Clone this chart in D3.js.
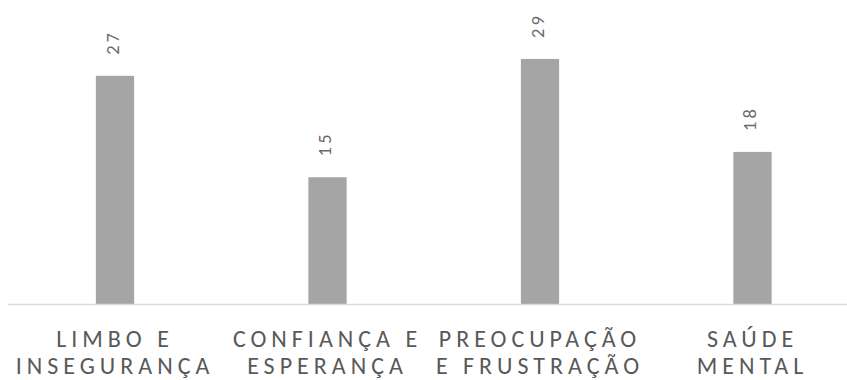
<!DOCTYPE html>
<html>
<head>
<meta charset="utf-8">
<script src="https://cdn.jsdelivr.net/npm/d3@7/dist/d3.min.js"></script>
<style>
  html, body { margin: 0; padding: 0; background: #ffffff; }
  svg { display: block; }
</style>
</head>
<body>
<svg id="chart" width="847" height="380"></svg>
<script>
// Category labels, split into the two lines shown under each bar
const categories = ["Limbo e Insegurança", "Confiança e Esperança", "Preocupação e Frustração", "Saúde Mental"];
const labelLines = [
  ["LIMBO E", "INSEGURANÇA"],
  ["CONFIANÇA E", "ESPERANÇA"],
  ["PREOCUPAÇÃO", "E FRUSTRAÇÃO"],
  ["SAÚDE", "MENTAL"]
];
const values = [27, 15, 29, 18];

const svg = d3.select("#chart");
const fontFamily = "Carlito, Calibri, 'Open Sans', sans-serif";

const baseY = 304;
const x = d3.scaleBand()
  .domain(categories)
  .range([8.75, 858.75])
  .paddingInner(0.82)
  .paddingOuter(0.41);

const y = d3.scaleLinear()
  .domain([0, 30])
  .range([baseY, baseY - 30 * 8.45]);

// Bars
svg.append("g")
  .selectAll("rect")
  .data(values)
  .join("rect")
  .attr("x", (d, i) => x(categories[i]))
  .attr("y", d => y(d))
  .attr("width", x.bandwidth())
  .attr("height", d => y(0) - y(d))
  .attr("fill", "#a5a5a5");

// Baseline
svg.append("line")
  .attr("x1", 8)
  .attr("x2", 847)
  .attr("y1", baseY + 0.5)
  .attr("y2", baseY + 0.5)
  .attr("stroke", "#d9d9d9")
  .attr("stroke-width", 1.5);

// Value labels, rotated above each bar
svg.append("g")
  .selectAll("text")
  .data(values)
  .join("text")
  .attr("transform", (d, i) =>
    `translate(${x(categories[i]) + x.bandwidth() / 2},${y(d) - 21}) rotate(-90)`)
  .attr("x", 0)
  .attr("y", 3.5)
  .attr("font-family", fontFamily)
  .attr("font-size", 18.5)
  .attr("letter-spacing", 3)
  .attr("fill", "#6b6b6b")
  .text(d => d);

// Category labels
const catG = svg.append("g")
  .selectAll("text")
  .data(labelLines)
  .join("text")
  .attr("text-anchor", "middle")
  .attr("font-family", fontFamily)
  .attr("font-size", 24)
  .attr("letter-spacing", 5)
  .attr("fill", "#595959");

catG.selectAll("tspan")
  .data((d, i) => d.map(t => ({ t, i })))
  .join("tspan")
  .attr("x", d => x(categories[d.i]) + x.bandwidth() / 2)
  .attr("y", (d, j) => j === 0 ? 346.5 : 373.5)
  .text(d => d.t);
</script>
</body>
</html>
